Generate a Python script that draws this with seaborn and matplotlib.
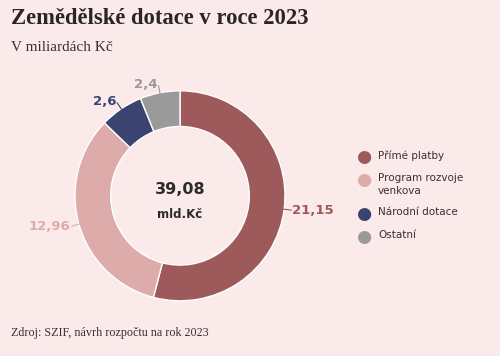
import numpy as np
import matplotlib.pyplot as plt
import seaborn as sns

categories = ["Přímé platby", "Program rozvoje\nvenkova", "Národní dotace", "Ostatní"]
values = [21.15, 12.96, 2.6, 2.4]
value_labels = ["21,15", "12,96", "2,6", "2,4"]
colors = ["#9e5a5a", "#dcabaa", "#3b4470", "#9a9a9a"]
total_label = "39,08"

bg = "#fbeaea"
sns.set_theme(style="white", rc={"figure.facecolor": bg, "axes.facecolor": bg})
plt.rcParams['font.family'] = ['DejaVu Sans']

fig = plt.figure(figsize=(5, 3.56), dpi=100)
ax = fig.add_axes([0.15, 0.155, 0.42, 0.59])
wedges, _ = ax.pie(values, colors=colors, startangle=90, counterclock=False,
                   radius=1.0, wedgeprops=dict(width=0.34, edgecolor="white", linewidth=1))
ax.set_aspect("equal")
ax.set_xlim(-1.0, 1.0)
ax.set_ylim(-1.0, 1.0)
ax.axis("off")

# value labels with short leader lines
cum = np.cumsum([0] + values)
for i, w in enumerate(wedges):
    mid = 90 - (cum[i] + values[i] / 2) / sum(values) * 360
    a = np.deg2rad(mid)
    c, s = np.cos(a), np.sin(a)
    r0, r1 = 0.99, 1.07
    ax.plot([c * r0, c * r1], [s * r0, s * r1], color=colors[i], lw=0.8, clip_on=False)
    ha = "left" if c > 0.1 else ("right" if c < -0.1 else "center")
    va = "center" if abs(s) < 0.5 else "bottom"
    ax.text(c * r1 + (0.01 if c > 0 else -0.01), s * r1 + (0.0 if va == "center" else -0.05),
            value_labels[i], color=colors[i], fontsize=9.5, fontweight="bold",
            ha=ha, va=va, clip_on=False)

ax.text(0, 0.06, total_label, ha="center", va="center", fontsize=11.5,
        fontweight="bold", color="#2b2b2b")
ax.text(0, -0.18, "mld.Kč", ha="center", va="center", fontsize=8.5,
        fontweight="bold", color="#2b2b2b")

# legend
ly = [0.558, 0.494, 0.399, 0.335]
for c, lab, yy in zip(colors, categories, ly):
    fig.text(0.728, yy, "●", color=c, fontsize=12.5, ha="center", va="center")
    fig.text(0.756, yy + 0.02, lab, fontsize=7.5, color="#3a3030", ha="left",
             va="top", linespacing=1.35)

fig.text(0.022, 0.947, "Zemědělské dotace v roce 2023", fontsize=16.3,
         fontweight="bold", family="Liberation Serif", color="#2b2525", ha="left", va="center")
fig.text(0.022, 0.866, "V miliardách Kč", fontsize=11, family="Liberation Serif",
         color="#3a3030", ha="left", va="center")
fig.text(0.022, 0.065, "Zdroj: SZIF, návrh rozpočtu na rok 2023", fontsize=8.7,
         family="Liberation Serif", color="#3a3030", ha="left", va="center")

fig.savefig("out.png", dpi=100, facecolor=bg)
